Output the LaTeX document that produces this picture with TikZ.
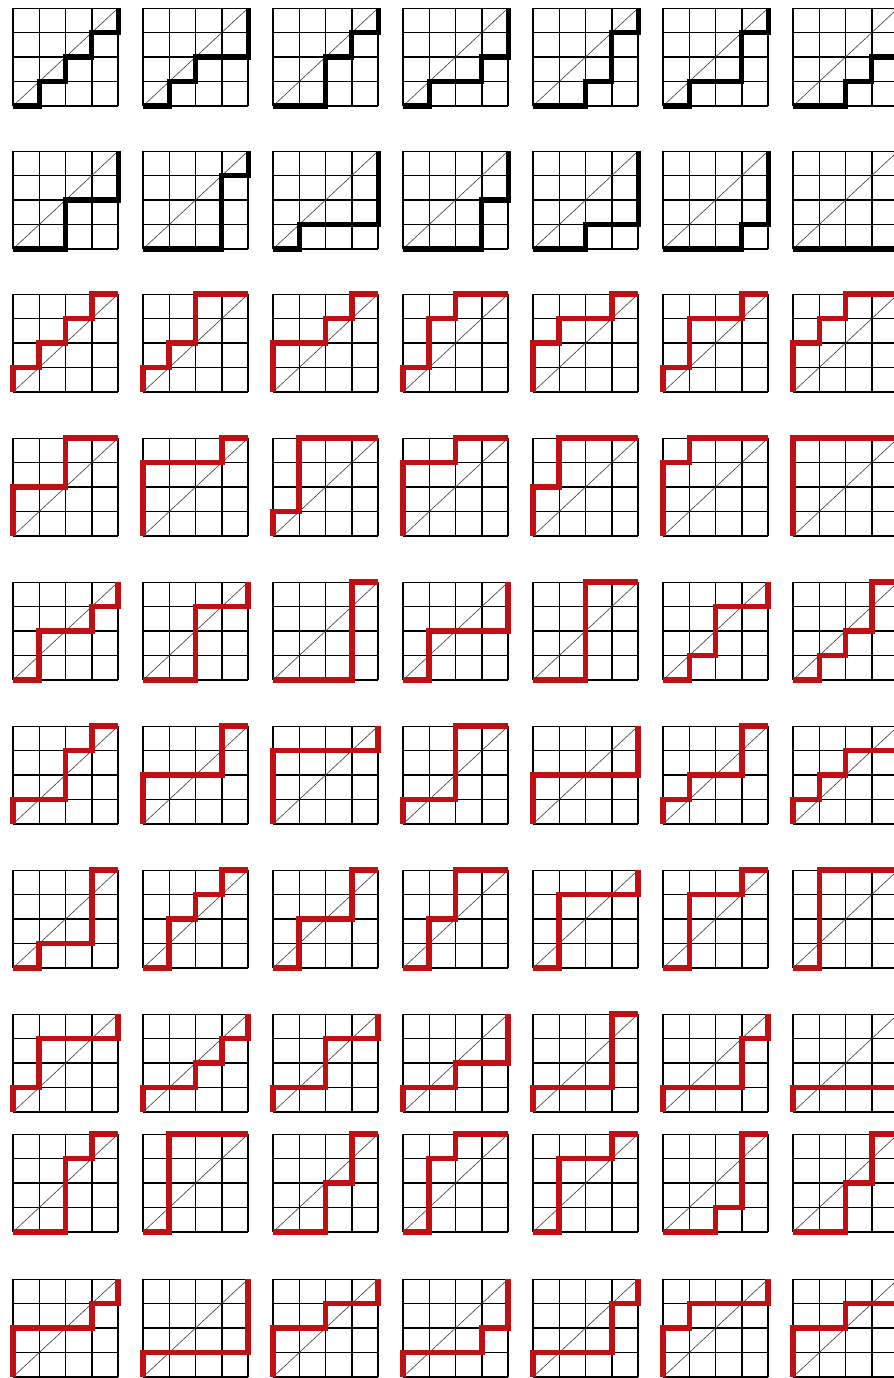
\documentclass[tikz,border=0pt]{standalone}
\usetikzlibrary{calc}

\definecolor{routered}{RGB}{192,16,20}
\tikzset{
	cellgrid/.style={step=1, line width=1pt, black},
	diagline/.style={line width=0.45pt, black!75},
	blackroute/.style={line width=3.6pt, black, line join=miter},
	redroute/.style={line width=4pt, routered, line join=miter},
}
% one 4x4 box: left, bottom, style, x of the four north steps
\newcommand{\latticebox}[7]{%
\begin{scope}[shift={({#1},{#2})},xscale=26.3,yscale=24.5]
	\draw[cellgrid] (0,0) grid (4,4);
	\draw[diagline] (0,0) -- (4,4);
	\draw[#3] (0,0) -| (#4,1) -| (#5,2) -| (#6,3) -| (#7,4) -- (4,4);
\end{scope}}

\begin{document}
\begin{tikzpicture}[x=0.25mm,y=0.25mm]
\useasboundingbox (0,0) rectangle (893,1378);

% paths that stay under the diagonal
\foreach \a/\b/\c/\d [count=\k] in {1/2/3/4,1/2/4/4,2/2/3/4,1/3/4/4,2/3/3/4,1/3/3/4,2/3/4/4}
	\latticebox{13+130*(\k-1)}{1272}{blackroute}{\a}{\b}{\c}{\d};
\foreach \a/\b/\c/\d [count=\k] in {2/2/4/4,3/3/3/4,1/4/4/4,3/3/4/4,2/4/4/4,3/4/4/4,4/4/4/4}
	\latticebox{13+130*(\k-1)}{1129}{blackroute}{\a}{\b}{\c}{\d};

% paths that stay over the diagonal
\foreach \a/\b/\c/\d [count=\k] in {0/1/2/3,0/1/2/2,0/0/2/3,0/1/1/2,0/0/1/3,0/1/1/3,0/0/1/2}
	\latticebox{13+130*(\k-1)}{986}{redroute}{\a}{\b}{\c}{\d};
\foreach \a/\b/\c/\d [count=\k] in {0/0/2/2,0/0/0/3,0/1/1/1,0/0/0/2,0/0/1/1,0/0/0/1,0/0/0/0}
	\latticebox{13+130*(\k-1)}{842}{redroute}{\a}{\b}{\c}{\d};

% paths that cross it
\foreach \a/\b/\c/\d [count=\k] in {1/1/3/4,2/2/2/4,3/3/3/3,1/1/4/4,2/2/2/2,1/2/2/4,1/2/3/3}
	\latticebox{13+130*(\k-1)}{698}{redroute}{\a}{\b}{\c}{\d};
\foreach \a/\b/\c/\d [count=\k] in {0/2/2/3,0/0/3/3,0/0/0/4,0/2/2/2,0/0/4/4,0/1/3/3,0/1/2/4}
	\latticebox{13+130*(\k-1)}{554}{redroute}{\a}{\b}{\c}{\d};
\foreach \a/\b/\c/\d [count=\k] in {1/3/3/3,1/1/2/3,1/1/3/3,1/1/2/2,1/1/1/4,1/1/1/3,1/1/1/1}
	\latticebox{13+130*(\k-1)}{410}{redroute}{\a}{\b}{\c}{\d};
\foreach \a/\b/\c/\d [count=\k] in {0/1/1/4,0/2/3/4,0/2/2/4,0/2/4/4,0/3/3/3,0/3/3/4,0/4/4/4}
	\latticebox{13+130*(\k-1)}{266}{redroute}{\a}{\b}{\c}{\d};
\foreach \a/\b/\c/\d [count=\k] in {2/2/2/3,1/1/1/1,2/2/3/3,1/1/1/2,1/1/1/3,2/3/3/3,2/2/3/3}
	\latticebox{13+130*(\k-1)}{146}{redroute}{\a}{\b}{\c}{\d};
\foreach \a/\b/\c/\d [count=\k] in {0/0/3/4,0/4/4/4,0/0/2/4,0/3/4/4,0/3/3/4,0/0/1/4,0/0/2/4}
	\latticebox{13+130*(\k-1)}{1}{redroute}{\a}{\b}{\c}{\d};

\end{tikzpicture}
\end{document}
